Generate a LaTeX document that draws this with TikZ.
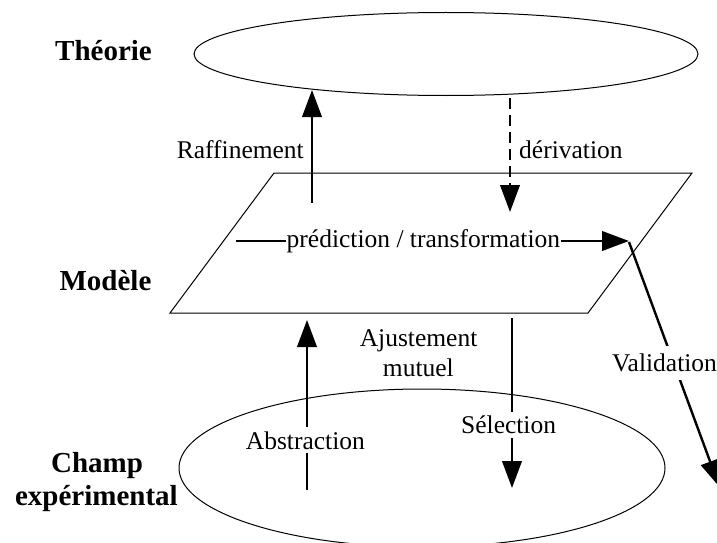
\documentclass[tikz,border=0pt]{standalone}
\usepackage{fontspec}
\setmainfont{Liberation Serif}
\usetikzlibrary{arrows.meta,shapes.geometric}
\tikzset{
  thinline/.style={line width=1pt, black},
  arr/.style={line width=2.4pt, -{Triangle[length=27pt,width=19.5pt]}},
  dasharr/.style={arr, dash pattern=on 11pt off 6pt},
  lbl/.style={font=\fontsize{25.5}{30}\selectfont, inner sep=0pt, anchor=base},
  cutlbl/.style={lbl, fill=white, inner xsep=1pt, inner ysep=4pt},
  head/.style={font=\fontsize{29}{33}\selectfont\bfseries, inner sep=0pt, anchor=base},
}
\begin{document}
\begin{tikzpicture}[x=1pt,y=-1pt]
\useasboundingbox (0,0) rectangle (717,543);
% layers
\node[thinline, draw, ellipse, minimum width=504pt, minimum height=83pt, inner sep=0pt] (theo) at (446,54) {};
\node[thinline, draw, ellipse, minimum width=486pt, minimum height=158pt, inner sep=0pt] (champ) at (422,468) {};
\coordinate (m1) at (274,173);
\coordinate (m2) at (692,173);
\coordinate (m3) at (588,313);
\coordinate (m4) at (170,313);
\draw[thinline] (m1) -- (m2) -- (m3) -- (m4) -- cycle;
% headings
\node[head] (hTheo) at (103.5,60.5) {Théorie};
\node[head] (hMod) at (105.5,290) {Modèle};
\node[head] (hCh1) at (97,472) {Champ};
\node[head] (hCh2) at (96.4,505) {expérimental};
% raffinement
\coordinate (r0) at (312,203);
\coordinate (r1) at (312,90);
\draw[arr] (r0) -- (r1);
\node[lbl, anchor=base east] (lRaf) at (304,158) {Raffinement};
% derivation
\coordinate (d0) at (510,98);
\coordinate (d1) at (510,212);
\draw[dasharr] (d0) -- (d1);
\node[lbl, anchor=base west] (lDer) at (519,158) {dérivation};
% prediction
\coordinate (p0) at (236,241);
\coordinate (p1) at (629,241);
\draw[arr] (p0) -- (p1);
\node[cutlbl, inner xsep=0.5pt] (lPred) at (423.4,247.3) {prédiction / transformation};
% validation
\coordinate (v0) at (629,242);
\coordinate (v1) at (719.5,487);
\draw[arr] (v0) -- (v1);
\node[cutlbl, inner ysep=8pt] (lVal) at (664.5,371.7) {Validation};
% abstraction
\coordinate (a0) at (307,490);
\coordinate (a1) at (307,320);
\draw[arr] (a0) -- (a1);
\node[cutlbl] (lAbs) at (305.4,449) {Abstraction};
% selection
\coordinate (s0) at (512,318);
\coordinate (s1) at (512,488);
\draw[arr] (s0) -- (s1);
\node[cutlbl] (lSel) at (508.6,433.3) {Sélection};
% ajustement
\node[lbl] (lAj1) at (418.6,346.7) {Ajustement};
\node[lbl] (lAj2) at (418.4,376) {mutuel};
\end{tikzpicture}
\end{document}
